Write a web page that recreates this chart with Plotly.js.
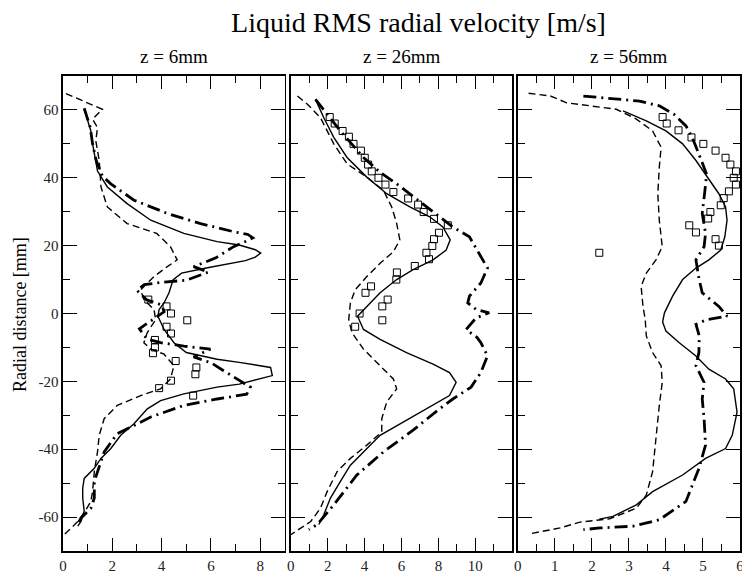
<!DOCTYPE html>
<html>
<head>
<meta charset="utf-8">
<script src="https://cdn.plot.ly/plotly-3.0.1.min.js"></script>
<style>html,body{margin:0;padding:0;background:#fff;}#chart{width:742px;height:577px;}</style>
</head>
<body>
<div id="chart"></div>
<script>
// ---------- Panel titles / text ----------
const chartTitle = "Liquid RMS radial velocity [m/s]";
const panelTitles = ["z = 6mm", "z = 26mm", "z = 56mm"];
const yTitle = "Radial distance [mm]";

// ---------- Tick labels ----------
const yTickVals = [-60, -40, -20, 0, 20, 40, 60];
const yTickText = ["-60", "-40", "-20", "0", "20", "40", "60"];
const xTickVals = [[0, 2, 4, 6, 8], [0, 2, 4, 6, 8, 10], [0, 1, 2, 3, 4, 5, 6]];
const xTickText = [["0", "2", "4", "6", "8"], ["0", "2", "4", "6", "8", "10"], ["0", "1", "2", "3", "4", "5", "6"]];

// ---------- Panel 1 (z = 6mm) ----------
const p1SolidX = [0.86,1.13,1.2,1.4,1.8,2.6,3.56,4.9,6.25,7.15,7.8,8.02,7.8,7.4,5.81,4.81,4.47,4.3,4.1,3.9,3.85,4.1,4.5,5.0,6.25,7.15,8.42,8.49,7.15,6.25,4.9,3.96,3.42,2.88,2.34,1.94,1.54,1.26,0.86,0.8,0.8,0.86,0.73,0.6];
const p1SolidY = [60.2,53.8,50,42,37.3,32.4,27.5,23.6,21.2,20.2,18.8,17.8,16.6,15.6,13.4,11.9,10,6.1,3.1,1.2,-0.8,-4.7,-8.6,-11.5,-13.5,-14.4,-15.9,-18.3,-20.8,-21.7,-23.7,-25.7,-28.1,-32.5,-35.9,-39.8,-42.7,-45.7,-48.6,-51.5,-54.4,-58.3,-61.3,-62.7];
const p1DashX = [0.12,0.9,1.6,1.2,1.4,1.33,1.47,1.54,1.8,2.6,3.8,4.36,4.63,4.23,3.69,3.15,3.28,3.69,3.76,3.42,3.28,3.56,4.1,4.5,4.36,3.96,3.15,2.2,1.67,1.47,1.4,1.27,1.2,1.13,0.93,0.6,0.05];
const p1DashY = [64.8,62.5,60.2,57.3,54.8,50.9,45.1,37.3,31.4,26.5,23.6,19.7,15.8,13.8,10.9,7.0,4.1,1.2,-1.8,-5.6,-8.6,-10.5,-12,-15.4,-19.3,-22.2,-24.2,-27.1,-31,-35.9,-40.8,-46.6,-52.5,-55.4,-57.9,-61.3,-65.2];
const p1DashDotX = [0.86,1.1,1.2,1.35,1.6,1.94,2.88,4.23,5.58,6.92,7.5,7.7,7.4,6.92,6.2,5.3,5.9,5.0,4.0,3.3,3.0,3.4,4.0,4.1,3.6,3.1,3.4,3.96,4.9,5.98,5.3,6.0,6.5,7.1,7.6,7.45,6.25,4.9,3.56,2.88,2.2,1.67,1.27,1.27,1.13,0.73,0.6];
const p1DashDotY = [60.5,55,50,45,40.5,38.2,33.4,29.5,26.5,24.1,23.3,22.3,21.2,19.7,16.4,13.8,12.2,9.8,9.2,8.5,6.8,4.0,2.5,0.5,-2.0,-4.5,-7.5,-8.6,-9.6,-10.5,-12.8,-14.5,-16.8,-19.5,-21.7,-23.8,-25.2,-27.1,-30.5,-33,-35.4,-40.8,-49.5,-54.4,-57.4,-60.3,-62];
const p1ExpX = [3.46,4.2,4.38,5.04,4.2,4.38,3.73,3.73,3.65,4.57,5.41,5.37,4.38,3.9,5.28];
const p1ExpY = [4.1,2.1,0,-2,-3.9,-5.9,-7.8,-10,-11.7,-14,-15.9,-17.9,-19.8,-22,-24.2];

// ---------- Panel 2 (z = 26mm) ----------
const p2SolidX = [1.34,1.79,2.33,3.05,4.12,5.2,6.45,7.53,8.24,8.64,8.42,7.71,6.63,5.74,4.84,4.12,3.62,3.94,4.84,6.27,7.71,8.6,8.96,8.6,7.35,5.91,4.84,3.94,3.23,2.69,2.15,1.79,1.52];
const p2SolidY = [63.1,57.7,51.9,46.0,40.2,35.3,31.4,28.5,25.5,21.7,18.7,15.8,12.9,10,6.1,2.1,-0.8,-4.7,-7.6,-11.5,-14.9,-17.4,-20.3,-24.2,-28.1,-32.5,-35.9,-40.8,-44.7,-49.5,-54.4,-59.3,-62.2];
const p2DashX = [0.36,0.9,1.61,2.33,3.05,4.12,5.02,5.47,5.74,5.91,5.56,4.84,4.12,3.49,3.23,3.14,3.31,3.94,4.84,5.56,5.74,5.2,4.93,4.93,4.12,3.23,2.51,1.97,1.61,1.08,0];
const p2DashY = [64.1,61.7,57.7,50,44.1,40.2,36.3,31.4,26.5,21.7,18.2,14.8,10.9,7,3.1,-1.8,-5.6,-10.5,-15.4,-19.3,-22.2,-26.1,-31,-34.9,-38.8,-42.7,-46.6,-52.5,-57.4,-61.3,-65.2];
const p2DashDotX = [1.34,1.97,2.69,3.94,4.84,5.74,7.35,8.78,9.68,10.2,10.66,10.3,9.68,9.59,10.04,10.75,10.04,9.5,10.1,10.3,10.66,10.3,9.77,8.78,8.06,6.63,5.02,3.58,2.33,1.43,0.98];
const p2DashDotY = [63.1,58.7,53.8,46,41.6,38.2,31.4,25.5,22.6,17.8,13.4,9,5.1,3.1,1.2,0.2,-1.3,-4.7,-7.1,-8.6,-12.5,-17.4,-21.7,-25.2,-28.1,-34.4,-40.8,-47.6,-56.4,-62.2,-63.7];
const p2ExpX = [2.11,2.38,2.81,3.15,3.4,3.8,4.01,4.19,4.39,4.75,5.13,5.56,6.36,6.9,7.2,7.76,8.51,8.03,7.76,7.67,7.35,7.49,6.72,5.75,5.72,4.35,4.05,5.25,4.96,3.73,4.96,3.49];
const p2ExpY = [57.9,56,53.8,52.1,50,48,45.9,43.9,41.9,40,38,35.8,33.9,32.1,29.9,27.9,26,23.8,21.9,19.9,17.9,16,14,12.1,10,8,6.1,4.1,2.1,0,-2,-3.9];

// ---------- Panel 3 (z = 56mm) ----------
const p3SolidX = [2.84,3.47,4.0,4.45,4.81,5.12,5.43,5.61,5.65,5.59,5.48,5.16,4.81,4.45,4.18,3.96,3.91,4.0,4.36,4.81,5.16,5.61,5.83,5.92,5.79,5.61,5.07,4.45,3.64,3.2,2.57,2.2];
const p3SolidY = [59.7,56.8,53.8,50,45.1,40.2,35.3,31.4,27.5,22.6,18.7,15.8,13.4,10,5.1,0.2,-2.5,-5.2,-8.6,-12.5,-16.4,-19.3,-22.2,-29.1,-35.9,-39.8,-42.7,-47.6,-52.5,-56.4,-59.8,-60.6];
const p3DashX = [0.29,0.88,1.32,2.04,2.66,3.2,3.64,3.87,3.82,3.78,3.82,3.9,3.73,3.47,3.33,3.38,3.44,3.47,3.64,3.87,3.9,3.82,3.73,3.64,3.47,3.2,2.48,1.68,1.14,0.29];
const p3DashY = [64.9,64.1,62.1,61.2,60.2,57.3,53.8,49,43.1,35.3,27.5,19.7,15.8,11.9,8,2.1,-1.8,-6.6,-11.5,-15.4,-20.3,-27.1,-36.9,-46.6,-53.5,-57.4,-60.5,-61.5,-63.2,-65];
const p3DashDotX = [1.77,2.48,3.29,3.82,4.22,4.54,4.71,4.89,5.1,5.05,4.98,5.07,5.03,4.81,4.89,4.98,5.43,5.65,5.1,4.81,4.9,4.89,4.81,5.03,4.98,5.03,5.07,4.89,4.54,3.82,3.11,2.22,1.77];
const p3DashDotY = [64.1,63.4,62.6,61.2,58.7,55.3,51.9,47,41,36,29.5,23.6,19.7,15.8,10.4,6.1,2.1,-0.8,-1.8,-3.2,-6.6,-11.5,-15.4,-20.3,-25.2,-31,-38.8,-45.7,-55.4,-60.8,-62.7,-63.2,-63.7];
const p3ExpX = [3.91,4.02,4.34,4.69,5.01,5.34,5.61,5.74,5.89,5.83,5.89,5.7,5.56,5.48,5.2,5.14,4.63,4.81,5.34,5.43,2.2];
const p3ExpY = [57.9,56,54,51.9,50,48,45.9,43.9,41.9,40,38,36,34,31.9,29.9,28,26,23.9,21.9,20,17.9];

// ---------- Axis settings ----------
const yRange = [-70, 70];
const xRanges = [[0, 9], [0, 12], [0, 6]];
const xMinorDticks = [1, 1, 0.5];

// ---------- Build ----------
const FONT = "Liberation Serif, Times New Roman, serif";
const solidStyle = {color: "#000", width: 1.4, dash: "solid"};
const dashStyle = {color: "#000", width: 1.4, dash: "7px,4px"};
const dashDotStyle = {color: "#000", width: 2.8, dash: "13px,5px,2px,5px"};
const markerStyle = {symbol: "square-open", size: 7, color: "#000", line: {width: 1, color: "#000"}};

const panels = [
  {sx: p1SolidX, sy: p1SolidY, dx: p1DashX, dy: p1DashY, ddx: p1DashDotX, ddy: p1DashDotY, ex: p1ExpX, ey: p1ExpY},
  {sx: p2SolidX, sy: p2SolidY, dx: p2DashX, dy: p2DashY, ddx: p2DashDotX, ddy: p2DashDotY, ex: p2ExpX, ey: p2ExpY},
  {sx: p3SolidX, sy: p3SolidY, dx: p3DashX, dy: p3DashY, ddx: p3DashDotX, ddy: p3DashDotY, ex: p3ExpX, ey: p3ExpY}
];

const traces = [];
panels.forEach((p, i) => {
  const xa = i === 0 ? "x" : "x" + (i + 1);
  const ya = i === 0 ? "y" : "y" + (i + 1);
  traces.push({x: p.ddx, y: p.ddy, xaxis: xa, yaxis: ya, mode: "lines", line: dashDotStyle, type: "scatter"});
  traces.push({x: p.dx, y: p.dy, xaxis: xa, yaxis: ya, mode: "lines", line: dashStyle, type: "scatter"});
  traces.push({x: p.sx, y: p.sy, xaxis: xa, yaxis: ya, mode: "lines", line: solidStyle, type: "scatter"});
  traces.push({x: p.ex, y: p.ey, xaxis: xa, yaxis: ya, mode: "markers", marker: markerStyle, type: "scatter"});
});

const W = 742, H = 577;
const L = 62.8, R = 1.5, T = 75.8, B = 25.5;
const PW = W - L - R, PH = H - T - B;
const edges = [[62.8, 284.9], [290.8, 512.5], [518.1, 740.5]];
const domains = edges.map(e => [Math.max(0, (e[0] - L) / PW), Math.min(1, (e[1] - L) / PW)]);

const layout = {
  width: W, height: H,
  margin: {l: L, r: R, t: T, b: B, pad: 0},
  paper_bgcolor: "#fff", plot_bgcolor: "#fff",
  showlegend: false,
  hovermode: false,
  font: {family: FONT, color: "#000", size: 15},
  title: {text: chartTitle, x: 418.5 / W, xanchor: "center", y: 1 - 22 / H, yanchor: "middle", font: {family: FONT, size: 28, color: "#000"}},
  annotations: []
};

panelTitles.forEach((t, i) => {
  const cx = (edges[i][0] + edges[i][1]) / 2;
  layout.annotations.push({text: t, xref: "paper", yref: "paper", x: (cx - L) / PW, y: (H - B - 56) / PH, xanchor: "center", yanchor: "middle", showarrow: false, font: {family: FONT, size: 19, color: "#000"}});
});
layout.annotations.push({text: yTitle, xref: "paper", yref: "paper", x: (20 - L) / PW, y: (H - B - 315) / PH, xanchor: "center", yanchor: "middle", textangle: -90, showarrow: false, font: {family: FONT, size: 18, color: "#000"}});

for (let i = 0; i < 3; i++) {
  const xk = i === 0 ? "xaxis" : "xaxis" + (i + 1);
  const yk = i === 0 ? "yaxis" : "yaxis" + (i + 1);
  const ya = i === 0 ? "y" : "y" + (i + 1);
  const xa = i === 0 ? "x" : "x" + (i + 1);
  layout[xk] = {
    domain: domains[i], anchor: ya, range: xRanges[i],
    tickmode: "array", tickvals: xTickVals[i], ticktext: xTickText[i],
    ticklabeloverflow: "allow",
    showgrid: false, zeroline: false, showline: true, linecolor: "#000", linewidth: 1.6, mirror: "allticks",
    ticks: "inside", ticklen: 13, tickwidth: 1, tickcolor: "#000",
    minor: {dtick: xMinorDticks[i], tick0: 0, ticks: "inside", ticklen: 7, tickwidth: 1, tickcolor: "#000", showgrid: false},
    tickfont: {family: FONT, size: 15, color: "#222"}, fixedrange: true
  };
  layout[yk] = {
    domain: [0, 1], anchor: xa, range: yRange,
    tickmode: "array", tickvals: yTickVals, ticktext: yTickText,
    showgrid: false, zeroline: false, showline: true, linecolor: "#000", linewidth: 1.6, mirror: "allticks",
    ticks: "inside", ticklen: 14, tickwidth: 1, tickcolor: "#000",
    minor: {dtick: 10, tick0: 0, ticks: "inside", ticklen: 7, tickwidth: 1, tickcolor: "#000", showgrid: false},
    showticklabels: i === 0,
    tickfont: {family: FONT, size: 15, color: "#222"}, fixedrange: true
  };
}

Plotly.newPlot("chart", traces, layout, {staticPlot: true, displayModeBar: false});
</script>
</body>
</html>
